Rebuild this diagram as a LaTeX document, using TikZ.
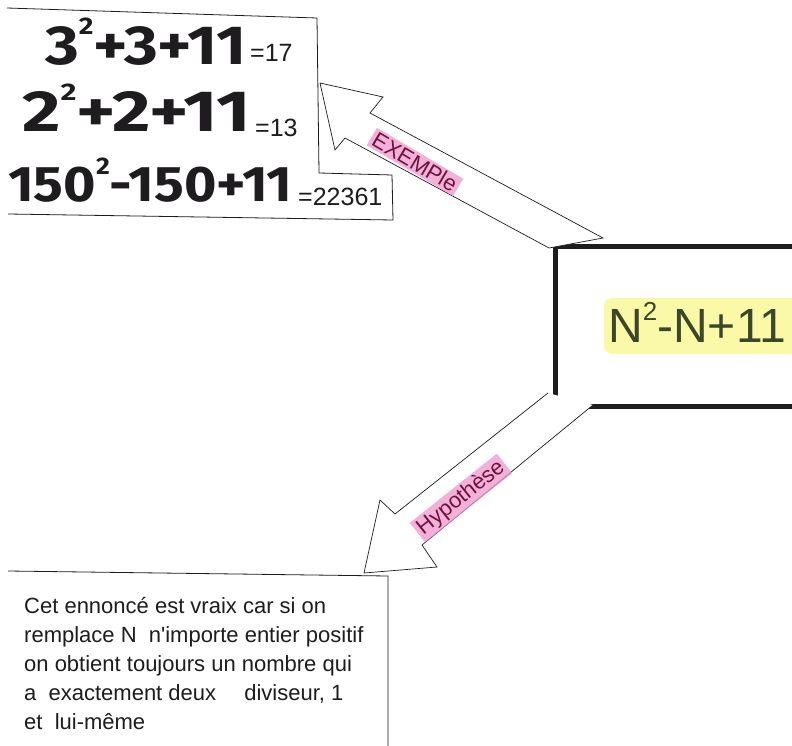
\documentclass[tikz,border=0pt]{standalone}
\usepackage{fontspec}
\setmainfont{Fira Sans}
\newfontfamily\handfont{Fira Sans}
\newfontfamily\thinfont{Liberation Sans}
\definecolor{ink}{RGB}{30,28,30}
\definecolor{labelink}{RGB}{110,20,60}
\definecolor{pinkhl}{RGB}{240,150,205}
\definecolor{yellowhl}{RGB}{245,245,110}
\definecolor{forminik}{RGB}{60,70,40}
\newcommand{\sqsup}{\raisebox{0.55em}{\fontsize{24}{24}\selectfont 2}}
\begin{document}
\begin{tikzpicture}[x=1pt,y=-1pt,
  frame/.style={draw=ink, line width=0.8pt},
  arrowshape/.style={draw=ink, line width=0.7pt, fill=white, line join=miter},
  bigeq/.style={font=\bfseries\handfont, text=ink, inner sep=0pt, anchor=base west},
  smalleq/.style={font=\fontsize{25}{25}\selectfont\thinfont, text=ink, inner sep=0pt, anchor=base west},
  hl/.style={fill=pinkhl, fill opacity=0.75, text opacity=1, text=labelink, inner xsep=3pt, inner ysep=2pt, font=\fontsize{22}{22}\selectfont\thinfont}
]
\useasboundingbox (0,0) rectangle (792,746);
\clip (0,0) rectangle (792,746);
\fill[white] (0,0) rectangle (792,746);

% top-left example box
\draw[frame] (7,8) -- (317,18) -- (319,173) -- (392,175) -- (393,220) -- (8,214);
\node[bigeq] (l1) at (45,65) {\fontsize{55}{55}\selectfont\scalebox{1.18}[1]{3\sqsup+3+11}};
\node[smalleq] (r1) at (250,62) {=17};
\node[bigeq] (l2) at (22,132) {\fontsize{58}{58}\selectfont\scalebox{1.28}[1]{2\sqsup+2+11}};
\node[smalleq] (r2) at (255,137) {=13};
\node[bigeq] (l3) at (8,202) {\fontsize{50}{50}\selectfont\scalebox{1.11}[1]{150\sqsup-150+11}};
\node[smalleq] (r3) at (298,206) {=22361};

% formula box
\node[draw=ink, line width=4.5pt, minimum width=290pt, minimum height=160pt, anchor=north west, inner sep=0pt] (formbox) at (553,244) {};
\fill[yellowhl, opacity=0.6, rounded corners=8pt] (604,298) rectangle (800,354);
\node[font=\fontsize{48}{48}\selectfont\thinfont, text=forminik, anchor=base west, inner sep=0pt] (formula) at (608,342) {N\raisebox{0.45em}{\fontsize{26}{26}\selectfont 2}-N+11};

% arrow 1 (Exemple)
\coordinate (a1tip) at (320,83);
\draw[arrowshape] (a1tip) -- (383,97) -- (370,113) -- (603,238) -- (549,248) -- (345,138) -- (335,150) -- cycle;
\node[hl, rotate=-30.5] (exlbl) at (415,162) {EXEMPle};

% arrow 2 (Hypothese)
\coordinate (a2tip) at (364,573);
\draw[arrowshape] (548,393) -- (395,514) -- (380,500) -- (a2tip) -- (437,567) -- (422,545) -- (593,405);
\node[hl, rotate=38.5] (hyplbl) at (461,498) {Hypothèse};

% bottom conclusion box
\draw[frame] (8,571) -- (388,576) -- (388,760);
\node[font=\fontsize{22}{29}\selectfont\thinfont, text=ink, align=left, anchor=north west, inner sep=0pt] (concl) at (24,597) {%
Cet ennoncé est vraix car si on\\
remplace N \ n'importe entier positif\\
on obtient toujours un nombre qui\\
a \ exactement deux \quad diviseur, 1\\
et \ lui-même};
\end{tikzpicture}
\end{document}
